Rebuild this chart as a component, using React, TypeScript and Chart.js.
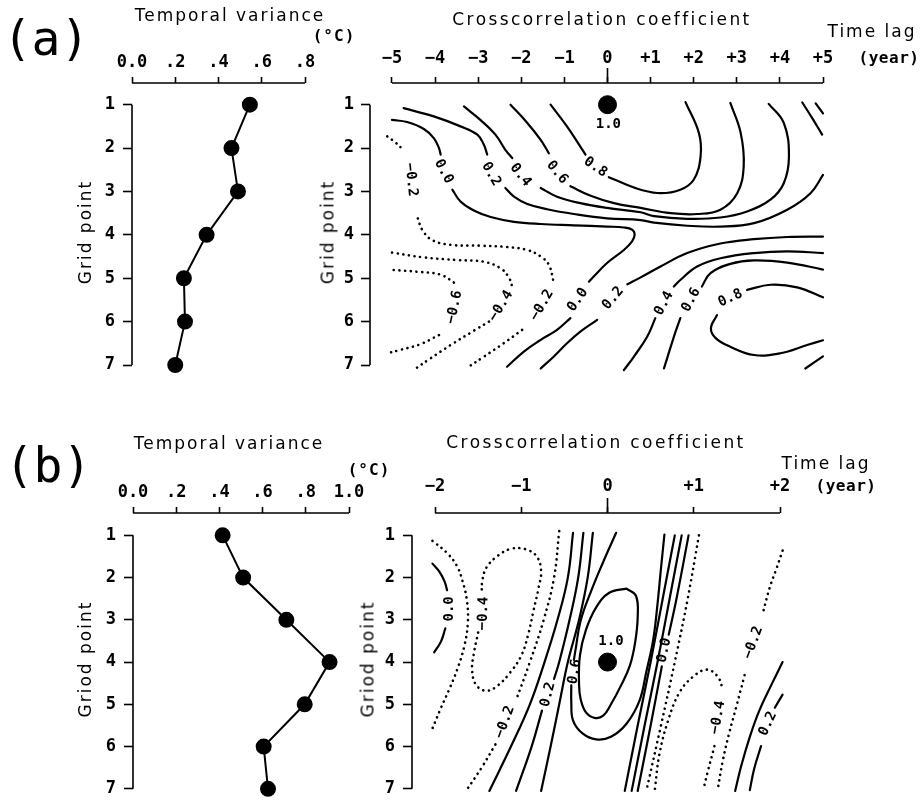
import React, { useEffect, useRef } from "react";
import { Chart, registerables } from "chart.js";

Chart.register(...registerables);

type Pt = [number, number];
type Seg = Pt[];
type Lbl = { t: string; x: number; y: number; r: number };

// ---------------- temporal variance (left panels) ----------------
const gridPoints = [1, 2, 3, 4, 5, 6, 7];
const gridTickLabels = ["1", "2", "3", "4", "5", "6", "7"];
const varianceA = [0.545, 0.46, 0.49, 0.345, 0.24, 0.245, 0.2];
const varianceB = [0.415, 0.51, 0.71, 0.91, 0.795, 0.605, 0.625];
const varTicksA = [0, 0.2, 0.4, 0.6, 0.8];
const varTickLabelsA = ["0.0", ".2", ".4", ".6", ".8"];
const varTicksB = [0, 0.2, 0.4, 0.6, 0.8, 1.0];
const varTickLabelsB = ["0.0", ".2", ".4", ".6", ".8", "1.0"];

// ---------------- time lag axes ----------------
const lagTicksA = [-5, -4, -3, -2, -1, 0, 1, 2, 3, 4, 5];
const lagTickLabelsA = ["−5", "−4", "−3", "−2", "−1", "0", "+1", "+2", "+3", "+4", "+5"];
const lagTicksB = [-2, -1, 0, 1, 2];
const lagTickLabelsB = ["−2", "−1", "0", "+1", "+2"];

// ---------------- panel (a) contours: [lag, grid point] ----------------
const aPeak: Pt = [0, 1];
const aPos00: Seg[] = [
  [[-5.0, 1.35], [-4.65, 1.4], [-4.26, 1.56], [-4.03, 1.77], [-3.91, 2.0], [-3.87, 2.15]],
  [[-3.6, 2.96], [-3.41, 3.23], [-3.1, 3.44], [-2.71, 3.59], [-2.17, 3.7], [-1.55, 3.75], [-0.78, 3.78], [-0.01, 3.81], [0.38, 3.83], [0.57, 3.88], [0.63, 4.0], [0.57, 4.15], [0.38, 4.35], [-0.01, 4.65], [-0.32, 4.96], [-0.43, 5.08]],
  [[-0.86, 5.92], [-1.17, 6.19], [-1.55, 6.42], [-1.94, 6.69], [-2.33, 7.04]],
];
const aPos02: Seg[] = [
  [[-4.73, 1.08], [-4.03, 1.27], [-3.41, 1.5], [-3.02, 1.69], [-2.87, 1.92], [-2.79, 2.15]],
  [[-2.37, 2.92], [-2.17, 3.12], [-1.86, 3.29], [-1.4, 3.41], [-0.78, 3.52], [-0.01, 3.62], [0.77, 3.66], [1.08, 3.72], [1.85, 3.79], [2.62, 3.81], [3.4, 3.73], [4.17, 3.42], [4.71, 3.04], [5.0, 2.62]],
];
const aPos04: Seg[] = [
  [[-3.33, 1.04], [-2.95, 1.35], [-2.6, 1.69], [-2.37, 2.04], [-2.21, 2.23]],
  [[-1.55, 2.92], [-1.17, 3.12], [-0.63, 3.27], [-0.01, 3.38], [0.77, 3.48], [1.08, 3.57], [1.85, 3.63], [2.62, 3.6], [3.24, 3.46], [3.78, 3.19], [4.09, 2.81], [4.21, 2.19], [4.09, 1.42], [3.74, 0.98]],
];
const aPos06: Seg[] = [
  [[-2.25, 1.0], [-1.86, 1.42], [-1.55, 1.81], [-1.36, 2.12]],
  [[-0.86, 2.88], [-0.39, 3.1], [0.15, 3.27], [0.77, 3.38], [1.46, 3.5], [2.08, 3.52], [2.62, 3.42], [3.01, 3.04], [3.16, 2.42], [3.09, 1.65], [2.85, 0.96]],
];
const aPos08: Seg[] = [
  [[-1.32, 1.0], [-0.94, 1.5], [-0.66, 1.92], [-0.51, 2.15]],
  [[0.03, 2.67], [0.46, 2.85], [0.77, 2.96], [1.23, 3.04], [1.69, 2.96], [2.0, 2.73], [2.16, 2.19], [2.12, 1.65], [1.81, 0.94]],
];
const aCorner: Seg[] = [
  [[4.52, 0.95], [4.75, 1.31], [4.98, 1.69]],
  [[4.83, 0.97], [5.0, 1.2]],
];
const aPos02b: Seg[] = [
  [[5.0, 4.04], [4.17, 4.05], [3.4, 4.1], [2.62, 4.2], [1.85, 4.42], [1.23, 4.73], [0.77, 4.98], [0.46, 5.14]],
  [[-0.24, 5.96], [-0.63, 6.23], [-0.94, 6.5], [-1.25, 6.81], [-1.55, 7.08]],
];
const aPos04b: Seg[] = [
  [[5.0, 4.42], [4.17, 4.38], [3.4, 4.42], [2.62, 4.54], [2.08, 4.73], [1.69, 5.04], [1.54, 5.19]],
  [[1.11, 5.92], [0.92, 6.35], [0.61, 6.81], [0.38, 7.12]],
];
const aPos06b: Seg[] = [
  [[5.0, 4.8], [4.17, 4.64], [3.4, 4.59], [2.85, 4.67], [2.39, 4.88], [2.19, 5.19]],
  [[1.69, 5.92], [1.54, 6.35], [1.31, 7.08]],
  [[4.59, 7.08], [5.0, 6.8]],
];
const aPos08b: Seg[] = [
  [[5.0, 5.44], [4.4, 5.21], [3.78, 5.15], [3.24, 5.27]],
  [[2.54, 5.85], [2.4, 6.15], [2.51, 6.38], [2.85, 6.58], [3.4, 6.77], [4.01, 6.73], [4.63, 6.54], [5.0, 6.43]],
];
const aNeg02: Seg[] = [
  [[-5.11, 1.73], [-4.92, 1.87], [-4.73, 2.05]],
  [[-4.4, 3.62], [-4.3, 3.88], [-4.07, 4.12], [-3.64, 4.23], [-2.95, 4.25], [-2.33, 4.28], [-1.86, 4.35], [-1.55, 4.5], [-1.36, 4.69], [-1.25, 5.08]],
  [[-1.98, 6.19], [-2.41, 6.5], [-2.87, 6.81], [-3.22, 7.04]],
];
const aNeg04: Seg[] = [
  [[-5.0, 4.41], [-4.26, 4.52], [-3.49, 4.58], [-2.87, 4.62], [-2.48, 4.77], [-2.29, 4.98], [-2.21, 5.19]],
  [[-2.75, 6.0], [-3.1, 6.21], [-3.64, 6.54], [-4.11, 6.85], [-4.45, 7.08]],
];
const aNeg06: Seg[] = [
  [[-4.96, 4.81], [-4.42, 4.85], [-3.87, 4.92], [-3.53, 5.12]],
  [[-3.91, 6.31], [-4.34, 6.52], [-4.8, 6.65], [-5.11, 6.73]],
];
const labelsA: Lbl[] = [
  { t: "1.0", x: 0.02, y: 1.45, r: 0 },
  { t: "0.0", x: -3.8, y: 2.54, r: 62 },
  { t: "−0.2", x: -4.56, y: 2.73, r: 84 },
  { t: "0.2", x: -2.7, y: 2.6, r: 60 },
  { t: "0.4", x: -2.02, y: 2.62, r: 52 },
  { t: "0.6", x: -1.17, y: 2.56, r: 50 },
  { t: "0.8", x: -0.28, y: 2.44, r: 35 },
  { t: "−0.6", x: -3.55, y: 5.67, r: -78 },
  { t: "−0.4", x: -2.47, y: 5.64, r: -58 },
  { t: "−0.2", x: -1.52, y: 5.62, r: -60 },
  { t: "0.0", x: -0.69, y: 5.5, r: -55 },
  { t: "0.2", x: 0.13, y: 5.46, r: -50 },
  { t: "0.4", x: 1.31, y: 5.58, r: -62 },
  { t: "0.6", x: 1.94, y: 5.5, r: -62 },
  { t: "0.8", x: 2.85, y: 5.46, r: -25 },
];

// ---------------- panel (b) contours: [lag, grid point] ----------------
const bPeak: Pt = [0, 4];
const bPos00W: Seg[] = [
  [[-2.03, 1.67], [-1.95, 1.86], [-1.89, 2.09], [-1.86, 2.3]],
  [[-1.88, 3.2], [-1.93, 3.51], [-2.01, 3.77]],
];
const bNeg02W: Seg[] = [
  [[-2.03, 1.13], [-1.87, 1.4], [-1.75, 1.71], [-1.68, 2.09], [-1.63, 2.55], [-1.62, 3.08], [-1.66, 3.62], [-1.74, 4.16], [-1.83, 4.62], [-1.93, 5.08], [-2.03, 5.57]],
];
const bNeg04W: Seg[] = [
  [[-1.5, 3.3], [-1.55, 3.8], [-1.57, 4.2], [-1.52, 4.55], [-1.4, 4.68], [-1.27, 4.55], [-1.13, 4.25], [-1.0, 3.85], [-0.92, 3.35], [-0.86, 2.8], [-0.8, 2.25], [-0.77, 1.85], [-0.82, 1.5], [-0.95, 1.33], [-1.12, 1.32], [-1.27, 1.48], [-1.4, 1.75], [-1.45, 2.05], [-1.46, 2.35]],
];
const bNeg02C: Seg[] = [
  [[-0.56, 0.9], [-0.62, 2.0], [-0.74, 3.0], [-0.9, 4.0], [-1.06, 4.9]],
  [[-1.3, 5.95], [-1.46, 6.5], [-1.64, 7.05]],
];
const bPos00C: Seg[] = [
  [[-0.4, 0.94], [-0.46, 2.0], [-0.58, 3.0], [-0.73, 4.0], [-0.9, 5.0], [-1.12, 6.0], [-1.37, 7.05]],
];
const bPos02C: Seg[] = [
  [[-0.28, 0.94], [-0.34, 2.0], [-0.44, 3.0], [-0.56, 4.0], [-0.62, 4.4]],
  [[-0.76, 5.15], [-0.88, 6.0], [-1.06, 7.05]],
];
const bPos04C: Seg[] = [
  [[-0.17, 0.94], [-0.23, 2.0], [-0.33, 3.0], [-0.46, 4.0], [-0.56, 5.0], [-0.66, 6.0], [-0.77, 7.05]],
];
const bPos06: Seg[] = [
  [[0.1, 0.94], [-0.05, 1.63], [-0.19, 2.32], [-0.31, 3.01], [-0.37, 3.7], [-0.39, 3.95]],
  [[-0.42, 4.55], [-0.42, 4.95], [-0.4, 5.38], [-0.29, 5.69], [-0.13, 5.83], [0.04, 5.77], [0.22, 5.46], [0.37, 4.92], [0.45, 4.23], [0.53, 3.47], [0.58, 2.62], [0.62, 1.78], [0.66, 0.98]],
];
const bPos08: Seg[] = [
  [[0.22, 2.26], [0.33, 2.43], [0.35, 2.93], [0.32, 3.54], [0.26, 4.08], [0.16, 4.54], [0.04, 5.0], [-0.05, 5.27], [-0.15, 5.32], [-0.25, 5.19], [-0.31, 4.89], [-0.33, 4.54], [-0.32, 3.85], [-0.25, 3.24], [-0.13, 2.7], [0.02, 2.36], [0.22, 2.26]],
];
const bPos04E: Seg[] = [[[0.78, 1.0], [0.64, 2.5], [0.5, 4.0], [0.35, 5.5], [0.2, 7.05]]];
const bPos02E: Seg[] = [[[0.86, 1.0], [0.72, 2.5], [0.58, 4.0], [0.43, 5.5], [0.28, 7.05]]];
const bPos00E: Seg[] = [
  [[0.94, 1.0], [0.8, 2.5], [0.71, 3.35]],
  [[0.63, 4.1], [0.5, 5.5], [0.35, 7.05]],
];
const bNeg02E: Seg[] = [[[1.06, 1.0], [0.93, 2.5], [0.78, 4.0], [0.62, 5.5], [0.45, 7.05]]];
const bNeg04E: Seg[] = [
  [[0.55, 7.0], [0.6, 6.2], [0.7, 5.4], [0.84, 4.7], [1.02, 4.3], [1.16, 4.18], [1.28, 4.35], [1.34, 4.66]],
  [[1.24, 5.99], [1.16, 6.61], [1.11, 7.03]],
];
const bNeg02F: Seg[] = [
  [[2.03, 1.36], [1.96, 1.78], [1.88, 2.24], [1.8, 2.85]],
  [[1.59, 4.31], [1.49, 5.08], [1.41, 5.69], [1.34, 6.3], [1.28, 6.99]],
];
const bPos00F: Seg[] = [[[2.03, 4.0], [1.9, 4.54], [1.76, 5.15], [1.65, 5.77], [1.55, 6.46], [1.48, 7.05]]];
const bPos02F: Seg[] = [
  [[2.03, 4.77], [1.94, 5.08]],
  [[1.78, 5.99], [1.7, 6.53], [1.65, 7.03]],
];
const labelsB: Lbl[] = [
  { t: "1.0", x: 0.04, y: 3.5, r: 0 },
  { t: "0.0", x: -1.83, y: 2.74, r: -90 },
  { t: "−0.4", x: -1.44, y: 2.85, r: -88 },
  { t: "−0.2", x: -1.19, y: 5.42, r: -70 },
  { t: "0.2", x: -0.69, y: 4.77, r: -75 },
  { t: "0.6", x: -0.38, y: 4.23, r: -80 },
  { t: "0.0", x: 0.66, y: 3.72, r: -78 },
  { t: "−0.4", x: 1.28, y: 5.31, r: -80 },
  { t: "−0.2", x: 1.69, y: 3.54, r: -70 },
  { t: "0.2", x: 1.86, y: 5.46, r: -65 },
];

const contoursA = [
  { segs: aPos00, dotted: false }, { segs: aPos02, dotted: false }, { segs: aPos04, dotted: false },
  { segs: aPos06, dotted: false }, { segs: aPos08, dotted: false }, { segs: aCorner, dotted: false },
  { segs: aPos02b, dotted: false }, { segs: aPos04b, dotted: false }, { segs: aPos06b, dotted: false },
  { segs: aPos08b, dotted: false }, { segs: aNeg02, dotted: true }, { segs: aNeg04, dotted: true },
  { segs: aNeg06, dotted: true },
];
const contoursB = [
  { segs: bPos00W, dotted: false }, { segs: bNeg02W, dotted: true }, { segs: bNeg04W, dotted: true },
  { segs: bNeg02C, dotted: true }, { segs: bPos00C, dotted: false }, { segs: bPos02C, dotted: false },
  { segs: bPos04C, dotted: false }, { segs: bPos06, dotted: false }, { segs: bPos08, dotted: false },
  { segs: bPos04E, dotted: false }, { segs: bPos02E, dotted: false }, { segs: bPos00E, dotted: false },
  { segs: bNeg02E, dotted: true }, { segs: bNeg04E, dotted: true }, { segs: bNeg02F, dotted: true },
  { segs: bPos00F, dotted: false }, { segs: bPos02F, dotted: false },
];

// ---------------- chart helpers ----------------
const MONO = "'DejaVu Sans Mono', monospace";
const SANS = "'DejaVu Sans', sans-serif";

function contourDatasets(list: { segs: Seg[]; dotted: boolean }[]) {
  const out: any[] = [];
  for (const c of list) {
    for (const s of c.segs) {
      out.push({
        data: s.map(([x, y]) => ({ x, y })),
        showLine: true,
        borderColor: "#000",
        borderWidth: c.dotted ? 2.6 : 2.2,
        borderDash: c.dotted ? [0.1, 5.6] : [],
        borderCapStyle: "round",
        borderJoinStyle: "round",
        pointRadius: 0,
        pointHoverRadius: 0,
        tension: 0.4,
        clip: false,
        fill: false,
      });
    }
  }
  return out;
}

function peakDataset(p: Pt) {
  return {
    data: [{ x: p[0], y: p[1] }],
    showLine: false,
    pointRadius: 9,
    pointBackgroundColor: "#000",
    pointBorderColor: "#000",
    clip: false,
  };
}

function varianceDataset(vals: number[]) {
  return {
    data: gridPoints.map((g, i) => ({ x: vals[i], y: g })),
    showLine: true,
    borderColor: "#000",
    borderWidth: 2,
    pointRadius: 7,
    pointBackgroundColor: "#000",
    pointBorderColor: "#000",
    tension: 0,
    clip: false,
  };
}

function axisPlugin(xFrom: number, xTo: number, longTick: number | null) {
  return {
    id: "axisLines",
    afterDraw(chart: any) {
      const { ctx, chartArea, scales } = chart;
      const x = scales.x;
      const y = scales.y;
      ctx.save();
      ctx.strokeStyle = "#000";
      ctx.lineWidth = 1.6;
      ctx.beginPath();
      ctx.moveTo(x.getPixelForValue(xFrom), chartArea.top);
      ctx.lineTo(x.getPixelForValue(xTo), chartArea.top);
      ctx.moveTo(chartArea.left, y.getPixelForValue(gridPoints[0]));
      ctx.lineTo(chartArea.left, y.getPixelForValue(gridPoints[gridPoints.length - 1]));
      if (longTick !== null) {
        const px = x.getPixelForValue(longTick);
        ctx.moveTo(px, chartArea.top);
        ctx.lineTo(px, chartArea.top - 15);
      }
      ctx.stroke();
      ctx.restore();
    },
  };
}

function labelPlugin(items: Lbl[]) {
  return {
    id: "contourLabels",
    afterDatasetsDraw(chart: any) {
      const { ctx, scales } = chart;
      ctx.save();
      ctx.fillStyle = "#000";
      ctx.font = `bold 14px ${MONO}`;
      ctx.textAlign = "center";
      ctx.textBaseline = "middle";
      for (const it of items) {
        const px = scales.x.getPixelForValue(it.x);
        const py = scales.y.getPixelForValue(it.y);
        ctx.save();
        ctx.translate(px, py);
        ctx.rotate((it.r * Math.PI) / 180);
        ctx.fillText(it.t, 0, 0);
        ctx.restore();
      }
      ctx.restore();
    },
  };
}

interface Spec {
  w: number;
  h: number;
  pad: { left: number; top: number; right: number; bottom: number };
  xMin: number;
  xMax: number;
  yMin: number;
  xTicks: number[];
  xLabels: string[];
  xPad: number;
  yPad: number;
  longTick: number | null;
  datasets: any[];
  labels: Lbl[];
}

function buildConfig(s: Spec): any {
  const tickFont = { family: MONO, size: 17, weight: "bold" };
  return {
    type: "scatter",
    data: { datasets: s.datasets },
    options: {
      responsive: false,
      animation: false,
      events: [],
      layout: { padding: s.pad },
      plugins: { legend: { display: false }, tooltip: { enabled: false } },
      scales: {
        x: {
          type: "linear",
          position: "top",
          min: s.xMin,
          max: s.xMax,
          afterBuildTicks: (ax: any) => {
            ax.ticks = s.xTicks.map((v) => ({ value: v }));
          },
          afterFit: (ax: any) => {
            ax.height = 40;
          },
          ticks: {
            autoSkip: false,
            maxRotation: 0,
            padding: s.xPad,
            color: "#000",
            font: tickFont,
            callback: (_v: any, i: number) => s.xLabels[i],
          },
          grid: { drawOnChartArea: false, drawTicks: true, tickLength: 6, tickColor: "#000", tickWidth: 1.6 },
          border: { display: false },
        },
        y: {
          type: "linear",
          position: "left",
          reverse: true,
          min: s.yMin,
          max: gridPoints[gridPoints.length - 1],
          afterBuildTicks: (ax: any) => {
            ax.ticks = gridPoints.map((v) => ({ value: v }));
          },
          afterFit: (ax: any) => {
            ax.width = 40;
          },
          ticks: {
            autoSkip: false,
            padding: s.yPad,
            color: "#000",
            font: tickFont,
            callback: (_v: any, i: number) => gridTickLabels[i],
          },
          grid: { drawOnChartArea: false, drawTicks: true, tickLength: 9, tickColor: "#000", tickWidth: 1.6 },
          border: { display: false },
        },
      },
    },
    plugins: [axisPlugin(s.xTicks[0], s.xTicks[s.xTicks.length - 1], s.longTick), labelPlugin(s.labels)],
  };
}

function ChartBox({ left, top, spec }: { left: number; top: number; spec: Spec }) {
  const ref = useRef<HTMLCanvasElement>(null);
  useEffect(() => {
    const chart = new Chart(ref.current as HTMLCanvasElement, buildConfig(spec));
    return () => chart.destroy();
  }, []);
  return (
    <div style={{ position: "absolute", left, top, width: spec.w, height: spec.h }}>
      <canvas ref={ref} width={spec.w} height={spec.h} style={{ display: "block" }} />
    </div>
  );
}

function T(props: { x: number; y: number; text: string; size: number; mono?: boolean; bold?: boolean; rot?: number; ls?: number }) {
  const { x, y, text, size, mono, bold, rot, ls } = props;
  return (
    <div
      style={{
        position: "absolute",
        left: x,
        top: y,
        transform: `translate(-50%, -50%) rotate(${rot || 0}deg)`,
        whiteSpace: "nowrap",
        fontFamily: mono ? MONO : SANS,
        fontWeight: bold ? "bold" : "normal",
        fontSize: size,
        letterSpacing: ls || 0,
        lineHeight: 1,
        color: "#000",
      }}
    >
      {text}
    </div>
  );
}

const specAL: Spec = {
  w: 360, h: 400,
  pad: { left: 92, top: 43, right: 55, bottom: 35 },
  xMin: 0, xMax: 0.8, yMin: 0.5,
  xTicks: varTicksA, xLabels: varTickLabelsA, xPad: 4, yPad: 8, longTick: null,
  datasets: [varianceDataset(varianceA)], labels: [],
};
const specAR: Spec = {
  w: 623, h: 400,
  pad: { left: 30, top: 43, right: 100, bottom: 35 },
  xMin: -5.51, xMax: 5, yMin: 0.5,
  xTicks: lagTicksA, xLabels: lagTickLabelsA, xPad: 8, yPad: 7, longTick: 0,
  datasets: [...contourDatasets(contoursA), peakDataset(aPeak)], labels: labelsA,
};
const specBL: Spec = {
  w: 400, h: 407,
  pad: { left: 93, top: 73, right: 51, bottom: 10 },
  xMin: 0, xMax: 1.0, yMin: 0.471,
  xTicks: varTicksB, xLabels: varTickLabelsB, xPad: 4, yPad: 8, longTick: null,
  datasets: [varianceDataset(varianceB)], labels: [],
};
const specBR: Spec = {
  w: 583, h: 407,
  pad: { left: 32, top: 73, right: 143, bottom: 10 },
  xMin: -2.267, xMax: 2, yMin: 0.471,
  xTicks: lagTicksB, xLabels: lagTickLabelsB, xPad: 10, yPad: 8, longTick: 0,
  datasets: [...contourDatasets(contoursB), peakDataset(bPeak)], labels: labelsB,
};

export default function App() {
  return (
    <div style={{ position: "absolute", left: 0, top: 0, width: 923, height: 807, background: "#fff", overflow: "hidden" }}>
      <ChartBox left={0} top={0} spec={specAL} />
      <ChartBox left={300} top={0} spec={specAR} />
      <ChartBox left={0} top={400} spec={specBL} />
      <ChartBox left={340} top={400} spec={specBR} />

      <T x={46} y={38} text="(a)" size={48} mono />
      <T x={230} y={15} text="Temporal variance" size={17} ls={2} />
      <T x={334} y={36} text="(°C)" size={16} mono bold ls={1} />
      <T x={602} y={19} text="Crosscorrelation coefficient" size={17} ls={2.4} />
      <T x={872} y={31} text="Time lag" size={17} ls={2} />
      <T x={889} y={58} text="(year)" size={16} mono bold ls={0.5} />
      <T x={85} y={232} text="Grid point" size={17} ls={2} rot={-90} />
      <T x={328} y={232} text="Grid point" size={17} ls={2} rot={-90} />

      <T x={48} y={465} text="(b)" size={48} mono />
      <T x={229} y={443} text="Temporal variance" size={17} ls={2} />
      <T x={369} y={470} text="(°C)" size={16} mono bold ls={1} />
      <T x={596} y={442} text="Crosscorrelation coefficient" size={17} ls={2.4} />
      <T x={826} y={463} text="Time lag" size={17} ls={2} />
      <T x={846} y={486} text="(year)" size={16} mono bold ls={0.5} />
      <T x={85} y={659} text="Griod point" size={17} ls={2} rot={-90} />
      <T x={368} y={659} text="Griod point" size={17} ls={2} rot={-90} />
    </div>
  );
}
